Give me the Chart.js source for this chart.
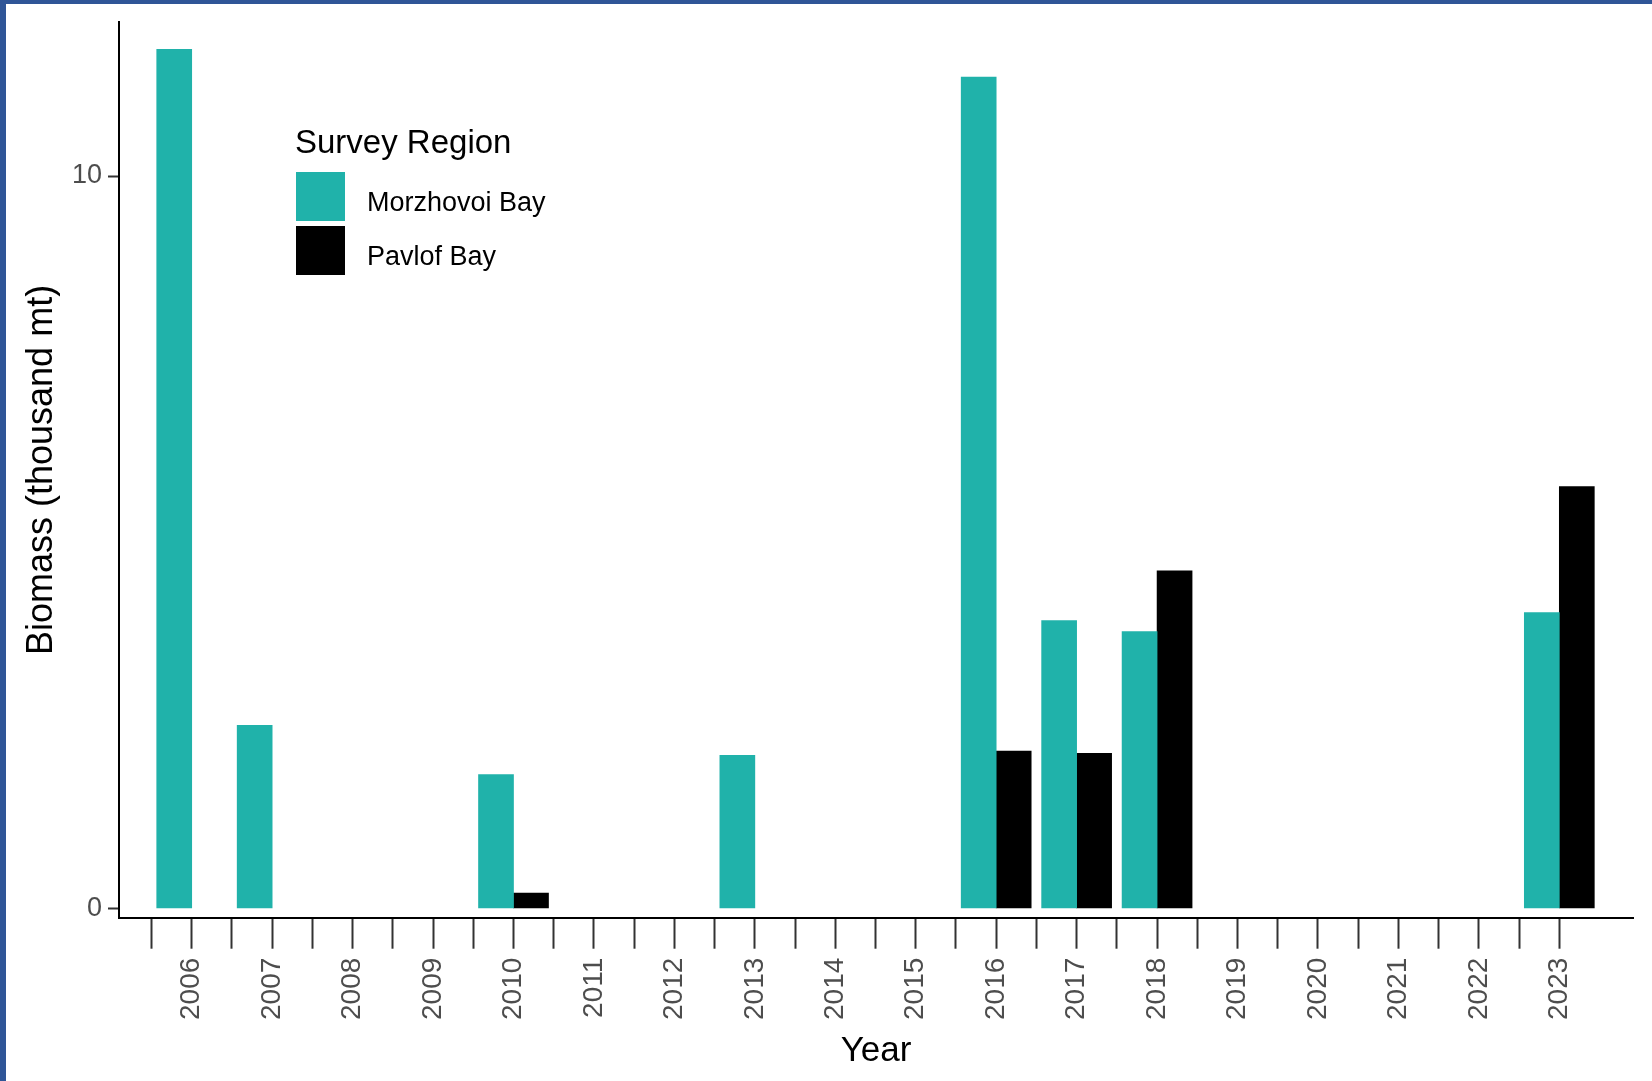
<!DOCTYPE html>
<html>
<head>
<meta charset="utf-8">
<script src="https://cdn.jsdelivr.net/npm/chart.js@4"></script>
<style>
  html, body { margin: 0; padding: 0; background: #fff; }
  #wrap { width: 1652px; height: 1081px; }
</style>
</head>
<body>
<div id="wrap"><canvas id="myChart" width="1652" height="1081"></canvas></div>
<script>
// survey years shown on the x axis
var tickYears = [2006, 2007, 2008, 2009, 2010, 2011, 2012, 2013, 2014,
                 2015, 2016, 2017, 2018, 2019, 2020, 2021, 2022, 2023];

// biomass (thousand mt) by survey region
var morzhovoiYears = [2006, 2007, 2010, 2013, 2016, 2017, 2018, 2023];
var morzhovoiBiomass = [11.73, 2.50, 1.83, 2.09, 11.35, 3.93, 3.78, 4.04];

var pavlofYears = [2010, 2016, 2017, 2018, 2023];
var pavlofBiomass = [0.21, 2.15, 2.12, 4.61, 5.76];

var yTicks = [0, 10];

var FONT = "'Liberation Sans', Arial, sans-serif";
var TEAL = '#20B2AA';

function toPoints(xs, ys) {
  return xs.map(function (x, i) { return { x: x, y: ys[i] }; });
}

// ticks every half year, labels only on whole years
var xTickValues = [];
tickYears.forEach(function (y) { xTickValues.push(y - 0.5, y); });

// white page with the blue frame strip on top and left
var framePlugin = {
  id: 'frame',
  beforeDraw: function (chart) {
    var c = chart.ctx;
    c.save();
    c.fillStyle = '#ffffff';
    c.fillRect(0, 0, chart.width, chart.height);
    c.fillStyle = '#2F5597';
    c.fillRect(0, 0, chart.width, 4);
    c.fillRect(0, 0, 6, chart.height);
    c.restore();
  }
};

// legend drawn inside the plot, top left
var regionLegend = {
  id: 'regionLegend',
  afterDraw: function (chart) {
    var c = chart.ctx;
    c.save();
    c.fillStyle = '#000';
    c.textBaseline = 'alphabetic';
    c.textAlign = 'left';
    c.font = '33px ' + FONT;
    c.fillText('Survey Region', 295, 153);
    chart.data.datasets.forEach(function (ds, i) {
      var top = 172 + i * 54;
      c.fillStyle = ds.backgroundColor;
      c.fillRect(296, top, 49, 49);
      c.fillStyle = '#000';
      c.font = '27px ' + FONT;
      c.fillText(ds.label, 367, top + 39);
    });
    c.restore();
  }
};

var ctx = document.getElementById('myChart').getContext('2d');
var chart = new Chart(ctx, {
  type: 'bar',
  data: {
    datasets: [{
      label: 'Morzhovoi Bay',
      data: toPoints(morzhovoiYears, morzhovoiBiomass),
      backgroundColor: TEAL,
      borderWidth: 0
    }, {
      label: 'Pavlof Bay',
      data: toPoints(pavlofYears, pavlofBiomass),
      backgroundColor: '#000000',
      borderWidth: 0
    }]
  },
  options: {
    responsive: false,
    animation: false,
    barThickness: 35,
    layout: {
      padding: { left: 6, top: 21, right: 19, bottom: 0 }
    },
    plugins: {
      legend: { display: false },
      tooltip: { enabled: false }
    },
    scales: {
      x: {
        type: 'linear',
        min: 2005.096,
        max: 2023.916,
        offset: false,
        afterBuildTicks: function (scale) {
          scale.ticks = xTickValues.map(function (v) { return { value: v }; });
        },
        afterFit: function (scale) { scale.height = 163.3; },
        grid: {
          display: true,
          offset: false,
          drawOnChartArea: false,
          drawTicks: true,
          tickLength: 31,
          tickWidth: 2,
          tickColor: '#333333'
        },
        border: { display: true, color: '#000000', width: 2 },
        ticks: {
          autoSkip: false,
          minRotation: 90,
          maxRotation: 90,
          padding: 9,
          color: '#4D4D4D',
          font: { family: FONT, size: 28 },
          callback: function (value) {
            return Number.isInteger(value) ? String(value) : '';
          }
        },
        title: {
          display: true,
          text: 'Year',
          color: '#000000',
          font: { family: FONT, size: 35 },
          padding: { top: 0, bottom: 9 }
        }
      },
      y: {
        min: -0.125,
        max: 12.1,
        afterBuildTicks: function (scale) {
          scale.ticks = yTicks.map(function (v) { return { value: v }; });
        },
        afterFit: function (scale) { scale.width = 113; },
        grid: {
          display: true,
          drawOnChartArea: false,
          drawTicks: true,
          tickLength: 11,
          tickWidth: 2,
          tickColor: '#333333'
        },
        border: { display: true, color: '#000000', width: 2 },
        ticks: {
          padding: 6,
          color: '#4D4D4D',
          font: { family: FONT, size: 27 },
          callback: function (value) { return String(value); }
        },
        title: {
          display: true,
          text: 'Biomass (thousand mt)',
          color: '#000000',
          font: { family: FONT, size: 36 },
          padding: { top: 14, bottom: 0 }
        }
      }
    }
  },
  plugins: [framePlugin, regionLegend]
});
</script>
</body>
</html>
